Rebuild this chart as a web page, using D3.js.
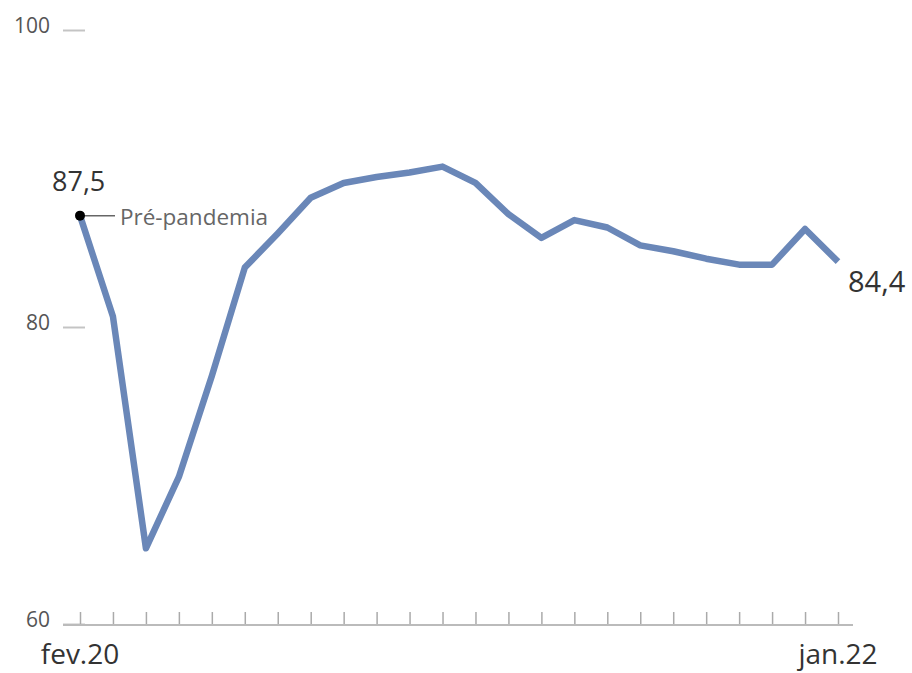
<!DOCTYPE html>
<html>
<head>
<meta charset="utf-8">
<script src="https://cdn.jsdelivr.net/npm/d3@7"></script>
<style>
  body { margin: 0; background: #fff; }
  text { font-family: "Open Sans", sans-serif; }
</style>
</head>
<body>
<div id="chart"></div>
<script>
var months = ["fev.20","mar.20","abr.20","mai.20","jun.20","jul.20","ago.20","set.20","out.20","nov.20","dez.20",
              "jan.21","fev.21","mar.21","abr.21","mai.21","jun.21","jul.21","ago.21","set.21","out.21","nov.21","dez.21","jan.22"];
var values = [87.5, 80.7, 65.1, 69.9, 76.7, 84.0, 86.3, 88.7, 89.7, 90.1, 90.4,
              90.8, 89.7, 87.6, 86.0, 87.2, 86.7, 85.5, 85.1, 84.6, 84.2, 84.2, 86.6, 84.4];
var yTicks = [60, 80, 100];
var shownLabels = ["fev.20", "jan.22"];
var noteText = "Pré-pandemia";

var width = 912, height = 673;

var svg = d3.select("#chart").append("svg")
    .attr("width", width)
    .attr("height", height);

var x = d3.scalePoint().domain(months).range([80, 838]);
var y = d3.scaleLinear().domain([60, 100]).range([624, 30]);

// eixo y: traços curtos
var yAxis = svg.append("g")
    .attr("transform", "translate(85,0)")
    .call(d3.axisLeft(y).tickValues(yTicks).tickSize(22).tickPadding(13).tickFormat(d3.format("d")));
yAxis.select(".domain").remove();
yAxis.selectAll(".tick line").attr("stroke", "#c4c4c4").attr("stroke-width", 2);
yAxis.selectAll(".tick text")
    .attr("dy", "0.1em")
    .attr("fill", "#555")
    .style("font-size", "21px")
    .style("font-family", "'Open Sans', sans-serif");

// eixo x
var xAxis = svg.append("g")
    .attr("transform", "translate(0," + (y(60) + 1) + ")")
    .call(d3.axisBottom(x).tickSize(-13).tickFormat(""));
xAxis.select(".domain").remove();
xAxis.selectAll(".tick line").attr("stroke", "#aaa").attr("stroke-width", 1.5);
svg.append("line")
    .attr("x1", 63).attr("x2", 853)
    .attr("y1", y(60) + 1).attr("y2", y(60) + 1)
    .attr("stroke", "#bbb").attr("stroke-width", 2);

svg.selectAll(".xlabel")
    .data(shownLabels)
    .enter().append("text")
    .attr("class", "xlabel")
    .attr("x", function(d) { return x(d); })
    .attr("y", 664)
    .attr("text-anchor", "middle")
    .attr("fill", "#333")
    .style("font-size", "28px")
    .text(function(d) { return d; });

// linha
var line = d3.line()
    .x(function(d, i) { return x(months[i]); })
    .y(function(d) { return y(d); });

svg.append("path")
    .datum(values)
    .attr("d", line)
    .attr("fill", "none")
    .attr("stroke", "#6a87b8")
    .attr("stroke-width", 6.5)
    .attr("stroke-linejoin", "round");

// anotação pré-pandemia
var x0 = x(months[0]), y0 = y(values[0]);
svg.append("line")
    .attr("x1", x0).attr("x2", x0 + 35)
    .attr("y1", y0).attr("y2", y0)
    .attr("stroke", "#666").attr("stroke-width", 1.5);
svg.append("circle")
    .attr("cx", x0).attr("cy", y0).attr("r", 5)
    .attr("fill", "#000");
svg.append("text")
    .attr("x", x0 + 40).attr("y", y0 + 9)
    .attr("fill", "#666")
    .style("font-size", "22.5px")
    .text(noteText);
svg.append("text")
    .attr("x", x0 - 28).attr("y", y0 - 25)
    .attr("fill", "#333")
    .style("font-size", "27px")
    .text(d3.format(".1f")(values[0]).replace(".", ","));

var n = values.length - 1;
svg.append("text")
    .attr("x", x(months[n]) + 10).attr("y", y(values[n]) + 30)
    .attr("fill", "#333")
    .style("font-size", "29px")
    .text(d3.format(".1f")(values[n]).replace(".", ","));
</script>
</body>
</html>
